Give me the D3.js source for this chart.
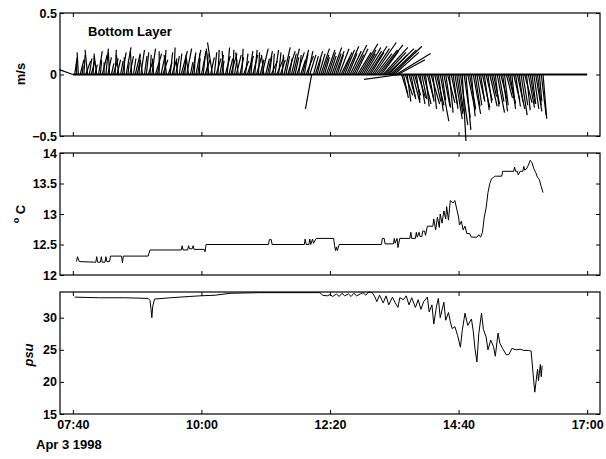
<!DOCTYPE html>
<html>
<head>
<meta charset="utf-8">
<script src="https://cdn.jsdelivr.net/npm/d3@7.9.0/dist/d3.min.js"></script>
<style>
  body { margin: 0; background: #fff; }
  text { font-family: "Liberation Sans", Arial, sans-serif; font-weight: bold; fill: #000; }
</style>
</head>
<body>
<svg id="chart" width="606" height="459"></svg>
<script>
// ---- data ----
const tickLabels = ["07:40", "10:00", "12:20", "14:40", "17:00"];
const dateLabel = "Apr 3 1998";
const baselineEnd = "17:00";

// bottom layer current sticks, every 2 min (one row per hour)
const stickTime = [
  "07:40","07:42","07:44","07:46","07:48","07:50","07:52","07:54","07:56","07:58",
  "08:00","08:02","08:04","08:06","08:08","08:10","08:12","08:14","08:16","08:18","08:20","08:22","08:24","08:26","08:28","08:30","08:32","08:34","08:36","08:38","08:40","08:42","08:44","08:46","08:48","08:50","08:52","08:54","08:56","08:58",
  "09:00","09:02","09:04","09:06","09:08","09:10","09:12","09:14","09:16","09:18","09:20","09:22","09:24","09:26","09:28","09:30","09:32","09:34","09:36","09:38","09:40","09:42","09:44","09:46","09:48","09:50","09:52","09:54","09:56","09:58",
  "10:00","10:02","10:04","10:06","10:08","10:10","10:12","10:14","10:16","10:18","10:20","10:22","10:24","10:26","10:28","10:30","10:32","10:34","10:36","10:38","10:40","10:42","10:44","10:46","10:48","10:50","10:52","10:54","10:56","10:58",
  "11:00","11:02","11:04","11:06","11:08","11:10","11:12","11:14","11:16","11:18","11:20","11:22","11:24","11:26","11:28","11:30","11:32","11:34","11:36","11:38","11:40","11:42","11:44","11:46","11:48","11:50","11:52","11:54","11:56","11:58",
  "12:00","12:02","12:04","12:06","12:08","12:10","12:12","12:14","12:16","12:18","12:20","12:22","12:24","12:26","12:28","12:30","12:32","12:34","12:36","12:38","12:40","12:42","12:44","12:46","12:48","12:50","12:52","12:54","12:56","12:58",
  "13:00","13:02","13:04","13:06","13:08","13:10","13:12","13:14","13:16","13:18","13:20","13:22","13:24","13:26","13:28","13:30","13:32","13:34","13:36","13:38","13:40","13:42","13:44","13:46","13:48","13:50","13:52","13:54","13:56","13:58",
  "14:00","14:02","14:04","14:06","14:08","14:10","14:12","14:14","14:16","14:18","14:20","14:22","14:24","14:26","14:28","14:30","14:32","14:34","14:36","14:38","14:40","14:42","14:44","14:46","14:48","14:50","14:52","14:54","14:56","14:58",
  "15:00","15:02","15:04","15:06","15:08","15:10","15:12","15:14","15:16","15:18","15:20","15:22","15:24","15:26","15:28","15:30","15:32","15:34","15:36","15:38","15:40","15:42","15:44","15:46","15:48","15:50","15:52","15:54","15:56","15:58",
  "16:00","16:02","16:04","16:06","16:08","16:10","16:12"
];
// east component (m/s)
const stickU = [
  -0.11,0.02,0.00,-0.01,0.03,0.01,0.01,0.04,-0.02,0.02,
  0.03,0.01,0.02,-0.02,0.03,0.01,0.04,0.00,0.02,0.03,-0.01,0.02,0.04,0.01,0.03,-0.02,0.02,0.03,0.00,0.04,0.01,0.03,-0.01,0.02,0.04,0.02,0.01,0.03,-0.02,0.02,
  0.02,0.04,0.01,0.03,-0.01,0.05,0.02,0.00,0.03,0.04,0.01,-0.02,0.03,0.02,0.04,0.01,0.03,-0.01,0.02,0.05,0.03,0.01,0.04,-0.02,0.02,0.03,0.01,0.04,0.02,0.00,
  0.03,0.02,0.04,0.01,-0.02,0.03,-0.04,0.02,0.04,0.01,0.03,0.02,-0.01,0.04,0.02,0.03,0.05,0.01,0.02,0.04,-0.02,0.03,0.01,0.04,0.02,0.05,0.03,0.01,0.04,0.02,
  0.04,0.01,0.03,0.05,-0.02,0.03,0.04,0.02,0.05,0.01,0.03,0.06,0.02,0.04,0.01,0.05,0.03,0.06,0.02,0.04,0.05,0.03,0.06,0.02,0.04,0.05,0.03,0.06,0.04,0.05,
  -0.05,0.04,0.06,0.03,0.05,0.07,0.05,0.04,0.07,0.06,0.05,0.08,0.06,0.07,0.05,0.08,0.09,0.06,0.08,0.10,0.07,0.09,0.12,0.08,0.10,0.11,0.15,0.12,0.10,0.13,
  0.12,0.15,0.11,0.14,0.18,0.13,0.16,0.19,0.14,0.20,0.17,0.22,0.15,0.21,0.24,0.20,0.28,0.22,-0.29,0.05,0.04,0.06,0.03,0.05,0.04,0.06,0.05,0.03,0.06,0.04,
  0.04,0.06,0.03,0.05,0.04,0.07,0.03,0.05,0.06,0.04,0.07,0.03,0.05,0.04,0.06,0.03,0.05,0.04,0.06,0.05,0.04,0.06,0.03,0.05,0.04,0.06,0.05,0.03,0.06,0.04,
  0.04,0.05,0.03,0.06,0.04,0.05,0.03,0.06,0.04,0.05,0.03,0.06,0.04,0.05,0.04,0.03,0.05,0.06,0.04,0.03,0.05,0.04,0.06,0.03,0.05,0.04,0.06,0.03,0.05,0.04,
  0.03,0.04,0.05,0.03,0.02,0.04,0.03
];
// north component (m/s)
const stickV = [
  0.04,0.14,0.09,0.18,0.12,0.07,0.16,0.11,0.20,0.13,
  0.11,0.17,0.08,0.15,0.19,0.12,0.16,0.10,0.21,0.14,0.18,0.09,0.13,0.20,0.12,0.16,0.11,0.18,0.14,0.22,0.10,0.15,0.19,0.13,0.17,0.09,0.16,0.20,0.12,0.15,
  0.18,0.11,0.16,0.21,0.13,0.17,0.09,0.19,0.14,0.12,0.20,0.16,0.10,0.18,0.13,0.22,0.15,0.11,0.17,0.19,0.12,0.16,0.21,0.14,0.10,0.18,0.15,0.20,0.13,0.17,
  0.15,0.19,0.12,0.17,0.21,0.14,0.26,0.18,0.13,0.20,0.16,0.11,0.19,0.15,0.22,0.13,0.17,0.20,0.12,0.16,0.18,0.14,0.21,0.11,0.17,0.15,0.19,0.13,0.16,0.20,
  0.14,0.18,0.12,0.21,0.16,0.13,0.19,0.15,0.11,0.17,0.20,0.14,0.18,0.12,0.16,0.22,0.15,0.19,0.13,0.17,0.21,0.14,0.18,0.16,0.12,0.20,0.17,0.15,0.19,0.16,
  -0.28,0.15,0.19,0.13,0.17,0.21,0.16,0.14,0.20,0.18,0.15,0.22,0.17,0.19,0.16,0.21,0.18,0.14,0.20,0.23,0.17,0.19,0.24,0.16,0.21,0.18,0.25,0.20,0.17,0.22,
  0.19,0.23,0.18,0.21,0.26,0.17,0.20,0.24,0.19,0.22,0.18,0.21,0.16,0.20,0.23,0.18,0.17,0.12,-0.04,-0.16,-0.19,-0.17,-0.22,-0.18,-0.20,-0.23,-0.17,-0.21,-0.19,-0.24,
  -0.20,-0.24,-0.26,-0.19,-0.22,-0.24,-0.28,-0.22,-0.25,-0.30,-0.38,-0.21,-0.26,-0.27,-0.23,-0.31,-0.24,-0.28,-0.36,-0.32,-0.30,-0.41,-0.54,-0.35,-0.45,-0.29,-0.28,-0.34,-0.32,-0.26,
  -0.25,-0.22,-0.20,-0.27,-0.29,-0.21,-0.23,-0.26,-0.18,-0.24,-0.26,-0.31,-0.22,-0.20,-0.30,-0.25,-0.19,-0.23,-0.24,-0.28,-0.21,-0.26,-0.28,-0.22,-0.33,-0.25,-0.23,-0.29,-0.27,-0.24,
  -0.24,-0.28,-0.30,-0.25,-0.22,-0.33,-0.36
];

// temperature (deg C)
const tempTime = [
  "07:44","07:45","07:47","08:05","08:06","08:07","08:10","08:11","08:12","08:15","08:16","08:17","08:20","08:21",
  "08:33","08:34","08:35","09:02","09:03","09:04","09:38","09:39","09:40","09:45","09:46","09:47","09:50","09:51",
  "09:52","10:03","10:04","10:05","11:13","11:14","11:16","11:17","11:52","11:53","11:54","11:57","11:58","11:59",
  "12:01","12:02","12:05","12:24","12:25","12:26","12:27","12:28","12:30","13:16","13:17","13:19","13:20","13:29",
  "13:30","13:31","13:33","13:34","13:36","13:47","13:48","13:49","13:53","13:54","13:55","13:57","13:58","14:00",
  "14:01","14:03","14:04","14:06","14:12","14:13","14:15","14:17","14:19","14:20","14:22","14:24","14:26","14:27",
  "14:29","14:31","14:34","14:36","14:38","14:40","14:41","14:43","14:45","14:47","14:49","14:52","14:54","15:00",
  "15:02","15:04","15:06","15:08","15:10","15:12","15:14","15:16","15:18","15:20","15:27","15:28","15:40","15:41",
  "15:42","15:44","15:45","15:47","15:50","15:51","15:52","15:54","15:56","15:58","16:00","16:02","16:04","16:06",
  "16:08","16:10","16:12"
];
const tempVal = [
  12.22,12.30,12.22,12.21,12.30,12.21,12.21,12.30,12.21,12.21,12.30,12.22,12.22,12.31,
  12.31,12.20,12.31,12.31,12.36,12.41,12.41,12.48,12.41,12.41,12.48,12.43,12.43,12.48,
  12.42,12.42,12.38,12.50,12.50,12.58,12.58,12.50,12.50,12.59,12.50,12.50,12.59,12.50,
  12.59,12.52,12.60,12.60,12.48,12.40,12.46,12.40,12.50,12.50,12.60,12.60,12.51,12.51,
  12.60,12.52,12.60,12.45,12.60,12.60,12.70,12.60,12.60,12.70,12.62,12.70,12.63,12.63,
  12.72,12.72,12.65,12.80,12.80,12.92,12.74,12.95,12.78,13.00,12.85,13.05,12.92,13.12,
  12.90,13.22,13.18,13.22,13.08,12.95,12.82,12.88,12.74,12.80,12.68,12.68,12.62,12.62,
  12.66,12.62,12.70,12.95,13.10,13.35,13.50,13.58,13.60,13.62,13.62,13.70,13.70,13.77,
  13.70,13.70,13.64,13.70,13.70,13.78,13.72,13.74,13.80,13.88,13.84,13.74,13.68,13.60,
  13.56,13.45,13.35
];

// salinity (psu)
const salTime = [
  "07:42","08:09","08:37","09:02","09:04","09:05","09:06","09:07","09:09","09:26","09:47","09:58","10:15","10:31",
  "11:04","12:09","12:12","12:17","12:20","12:23","12:27","12:30","12:33","12:36","12:40","12:43","12:46","12:49",
  "12:53","12:56","12:59","13:02","13:06","13:09","13:11","13:14","13:18","13:21","13:24","13:28","13:31","13:34",
  "13:36","13:40","13:43","13:46","13:49","13:53","13:56","13:59","14:02","14:06","14:08","14:11","14:13","14:16",
  "14:18","14:20","14:22","14:24","14:26","14:29","14:31","14:33","14:36","14:39","14:42","14:44","14:47","14:50",
  "14:54","14:56","14:58","15:00","15:02","15:05","15:07","15:10","15:12","15:15","15:18","15:20","15:23","15:25",
  "15:28","15:32","15:35","15:38","15:43","15:47","15:51","15:56","15:59","16:01","16:03","16:06","16:07","16:09",
  "16:10","16:11"
];
const salVal = [
  33.2,33.1,33.1,33.0,32.7,31.5,30.0,31.8,32.9,33.1,33.3,33.4,33.5,33.8,
  33.9,33.9,33.5,33.4,33.6,33.3,33.7,33.3,33.8,33.4,33.7,33.3,33.8,33.4,
  33.7,33.9,33.5,34.0,33.9,33.2,32.5,33.5,32.3,33.4,32.0,33.2,32.3,31.6,
  33.1,32.8,33.4,32.0,33.1,31.6,32.8,31.3,32.5,33.2,30.9,32.0,29.0,31.8,
  33.0,30.0,31.2,32.4,29.6,30.8,29.4,28.3,28.6,27.2,25.4,28.0,30.7,28.8,
  29.8,27.9,25.0,23.1,27.5,30.7,28.2,27.0,25.0,26.5,25.5,24.0,27.6,26.0,
  25.2,24.2,24.3,25.2,25.0,25.1,24.9,24.9,24.8,21.5,18.4,22.0,20.2,22.7,
  20.8,22.5
];

// ---- chart ----
const parse = d3.timeParse("%H:%M");
const svg = d3.select("#chart");
const x = d3.scaleTime()
  .domain([parse("07:26"), parse("17:14")])
  .range([60, 600]);

const panels = [
  { top: 13, bottom: 136, domain: [-0.5, 0.5], ticks: [-0.5, 0, 0.5] },
  { top: 153, bottom: 275, domain: [12, 14], ticks: [12, 12.5, 13, 13.5, 14] },
  { top: 292, bottom: 414, domain: [15, 34], ticks: [15, 20, 25, 30] }
];
panels.forEach(p => {
  p.y = d3.scaleLinear().domain(p.domain).range([p.bottom, p.top]);
});

function drawFrame(p, showX) {
  const g = svg.append("g");
  const fmt = d3.format("~g");
  const xt = tickLabels.map(parse);
  g.append("g").attr("transform", `translate(0,${p.bottom})`)
    .call(d3.axisBottom(x).tickValues(xt).tickSize(-4).tickPadding(6)
      .tickFormat(showX ? d3.timeFormat("%H:%M") : ""));
  g.append("g").attr("transform", `translate(0,${p.top})`)
    .call(d3.axisTop(x).tickValues(xt).tickSize(-4).tickFormat(""));
  g.append("g").attr("transform", "translate(60,0)")
    .call(d3.axisLeft(p.y).tickValues(p.ticks).tickSize(-4).tickPadding(3).tickFormat(fmt));
  g.append("g").attr("transform", "translate(600,0)")
    .call(d3.axisRight(p.y).tickValues(p.ticks).tickSize(-4).tickFormat(""));
  g.selectAll(".domain").remove();
  g.selectAll(".tick line").attr("stroke", "#000");
  g.selectAll(".tick text").style("font-size", "12.5px").style("font-family", "Liberation Sans, Arial, sans-serif")
    .style("font-weight", "bold").attr("fill", "#000");
  svg.append("rect")
    .attr("x", 60).attr("y", p.top)
    .attr("width", 540).attr("height", p.bottom - p.top)
    .attr("fill", "none").attr("stroke", "#000").attr("stroke-width", 1.2);
}

// panel 1: stick plot
const p1 = panels[0];
const k = p1.y(0) - p1.y(1); // px per m/s, same scale both ways
const sticks = stickTime.map((t, i) => ({ t: parse(t), u: stickU[i], v: stickV[i] }));
svg.append("line")
  .attr("x1", x(sticks[0].t)).attr("x2", x(parse(baselineEnd)))
  .attr("y1", p1.y(0)).attr("y2", p1.y(0))
  .attr("stroke", "#000").attr("stroke-width", 2);
svg.append("g").selectAll("line").data(sticks).join("line")
  .attr("x1", d => x(d.t)).attr("y1", p1.y(0))
  .attr("x2", d => x(d.t) + d.u * k).attr("y2", d => p1.y(d.v))
  .attr("stroke", "#000").attr("stroke-width", 1.2);

// panel 2: temperature
const p2 = panels[1];
svg.append("path")
  .datum(tempTime.map((t, i) => [parse(t), tempVal[i]]))
  .attr("fill", "none").attr("stroke", "#000").attr("stroke-width", 1)
  .attr("d", d3.line().x(d => x(d[0])).y(d => p2.y(d[1])));

// panel 3: salinity
const p3 = panels[2];
svg.append("path")
  .datum(salTime.map((t, i) => [parse(t), salVal[i]]))
  .attr("fill", "none").attr("stroke", "#000").attr("stroke-width", 1)
  .attr("d", d3.line().x(d => x(d[0])).y(d => p3.y(d[1])));

panels.forEach((p, i) => drawFrame(p, i === 2));

// labels
svg.append("text").attr("x", 88).attr("y", 36).style("font-size", "13px").text("Bottom Layer");
svg.append("text").attr("transform", "translate(25,74) rotate(-90)")
  .attr("text-anchor", "middle").style("font-size", "13px").text("m/s");
const tl = svg.append("text").attr("transform", "translate(23,214) rotate(-90)")
  .attr("text-anchor", "middle").style("font-size", "13px");
tl.append("tspan").attr("dy", "-0.45em").style("font-size", "9px").text("o");
tl.append("tspan").attr("dy", "0.45em").text(" C");
svg.append("text").attr("transform", "translate(33,355) rotate(-90)")
  .attr("text-anchor", "middle").style("font-size", "13px").style("font-style", "italic").text("psu");
svg.append("text").attr("x", 36).attr("y", 449).style("font-size", "13px").text(dateLabel);
</script>
</body>
</html>
